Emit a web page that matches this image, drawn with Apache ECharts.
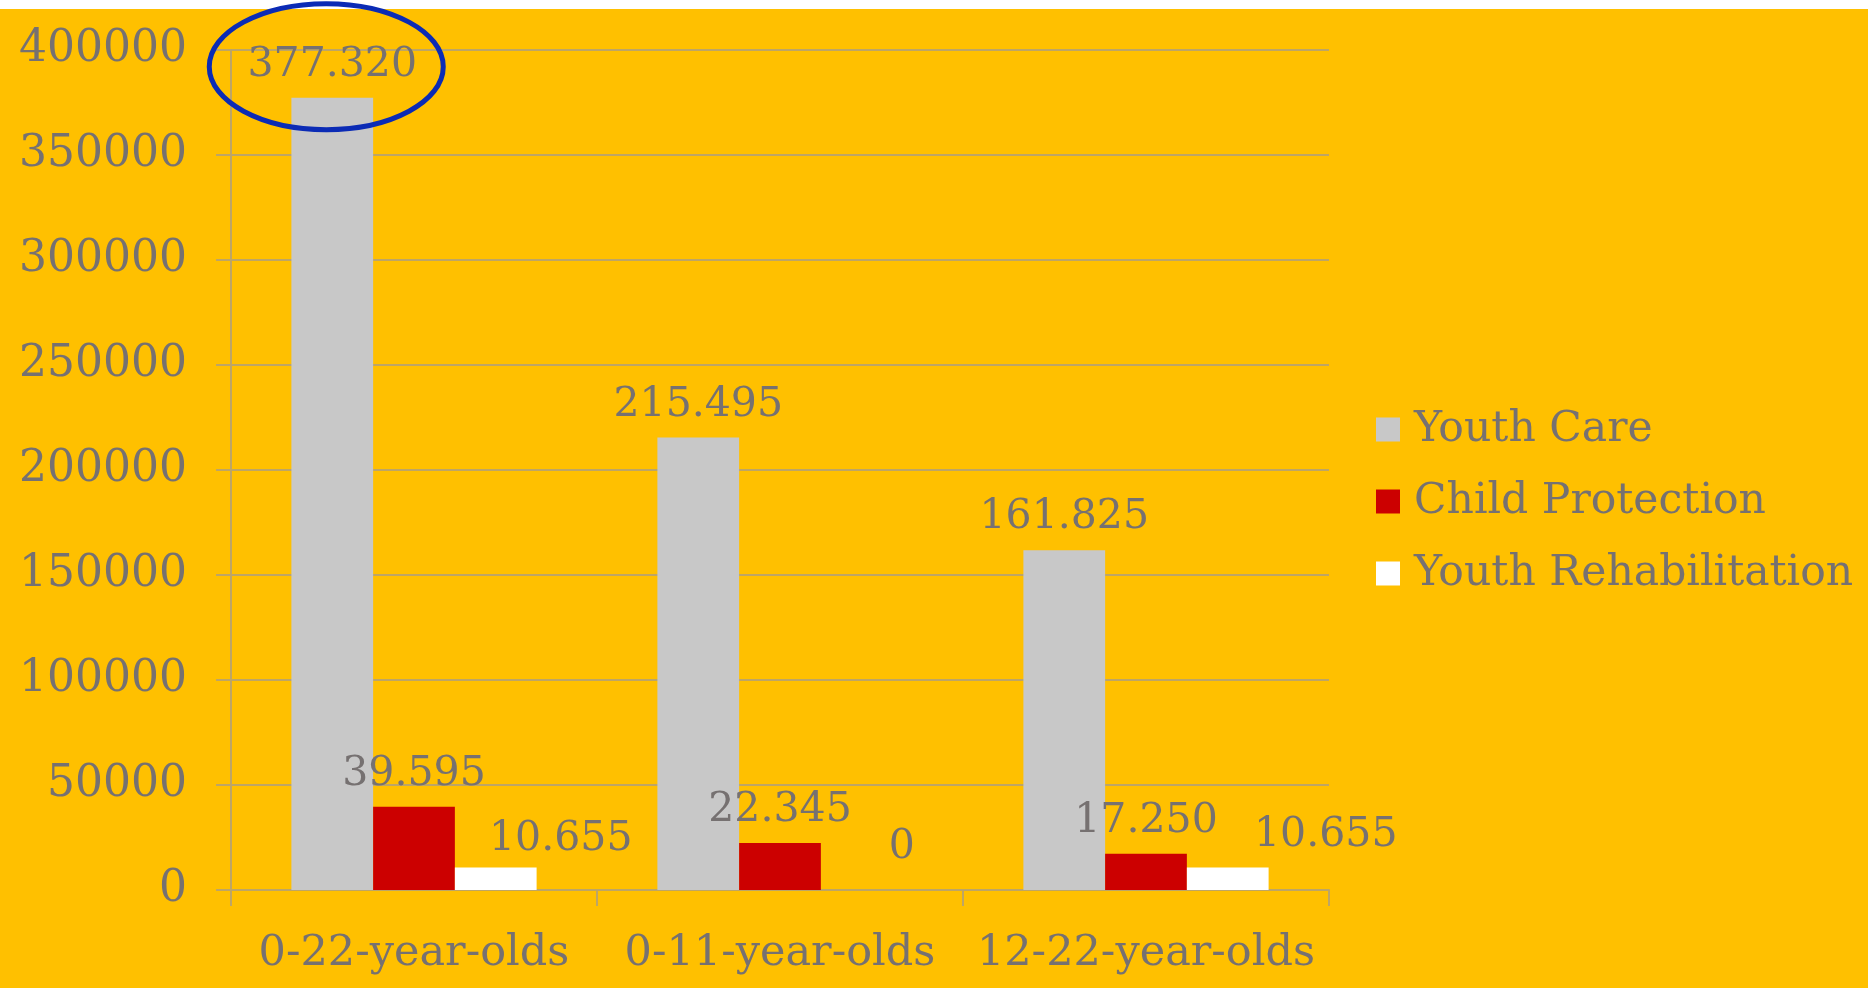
<!DOCTYPE html>
<html>
<head>
<meta charset="utf-8">
<title>Youth Care, Child Protection and Youth Rehabilitation by age group</title>
<script src="https://cdn.jsdelivr.net/npm/echarts@6/dist/echarts.min.js"></script>
<style>
  html, body { margin: 0; padding: 0; background: #ffffff; }
  #chart { width: 1868px; height: 988px; }
</style>
</head>
<body>
<div id="chart"></div>
<script>
// Age groups on the category axis
const categories = ['0-22-year-olds', '0-11-year-olds', '12-22-year-olds'];

// Number of young people per type of care
const youthCare = [377320, 215495, 161825];
const childProtection = [39595, 22345, 17250];
const youthRehabilitation = [10655, 0, 10655];

// Value axis ticks
const yMin = 0;
const yMax = 400000;
const yStep = 50000;

const TEXT = '#767171';
const LINE = '#BDA566';
const FONT = 'DejaVu Serif';

// Dutch style thousands separator: 377320 -> "377.320"
function dotThousands(v) {
  return String(v).replace(/\B(?=(\d{3})+(?!\d))/g, '.');
}

// The rehabilitation labels sit a little to the right of their bars
const rehabLabelShift = [[65, 4], [40, -10], [98, 0]];

const labelStyle = {
  show: true,
  position: 'top',
  distance: 12,
  fontFamily: FONT,
  fontSize: 41,
  color: TEXT,
  formatter: p => dotThousands(p.value)
};

const chart = echarts.init(document.getElementById('chart'));

const ribbon = {
  type: 'rect',
  left: 0,
  top: 0,
  shape: { width: 1868, height: 9 },
  style: { fill: '#FFFFFF' },
  z: 100
};

const option = {
  backgroundColor: '#FFC000',
  animation: false,
  grid: { left: 231, right: 539, top: 50, bottom: 98 },
  legend: {
    orient: 'vertical',
    left: 1376,
    top: 408,
    padding: 0,
    itemWidth: 24,
    itemHeight: 24,
    itemGap: 29,
    icon: 'rect',
    textStyle: { fontFamily: FONT, fontSize: 42.5, color: TEXT, padding: [0, 0, 0, 9] },
    data: ['Youth Care', 'Child Protection', 'Youth Rehabilitation']
  },
  xAxis: {
    type: 'category',
    data: categories,
    axisLine: { show: true, lineStyle: { color: LINE, width: 2 } },
    axisTick: { show: true, length: 16, lineStyle: { color: LINE, width: 2 } },
    axisLabel: { interval: 0, fontFamily: FONT, fontSize: 43, color: TEXT, margin: 42 }
  },
  yAxis: {
    type: 'value',
    min: yMin,
    max: yMax,
    interval: yStep,
    axisLine: { show: true, lineStyle: { color: LINE, width: 2 } },
    axisTick: { show: true, length: 15, lineStyle: { color: LINE, width: 2 } },
    splitLine: { show: true, lineStyle: { color: LINE, width: 2 } },
    axisLabel: {
      fontFamily: FONT, fontSize: 44, color: TEXT, margin: 44,
      formatter: v => String(v)
    }
  },
  series: [
    {
      name: 'Youth Care',
      type: 'bar',
      data: youthCare,
      barGap: '0%',
      barCategoryGap: '33%',
      itemStyle: { color: '#C8C8C8' },
      label: labelStyle
    },
    {
      name: 'Child Protection',
      type: 'bar',
      data: childProtection,
      itemStyle: { color: '#CC0000' },
      label: labelStyle
    },
    {
      name: 'Youth Rehabilitation',
      type: 'bar',
      data: youthRehabilitation.map((v, i) => ({
        value: v,
        label: { offset: rehabLabelShift[i] }
      })),
      itemStyle: { color: '#FFFFFF' },
      label: labelStyle
    }
  ],
  graphic: [ribbon]
};

chart.setOption(option);

// Highlight ring around the largest Youth Care figure
(function () {
  const i = youthCare.indexOf(Math.max(...youthCare));
  const catCenter = chart.convertToPixel({ xAxisIndex: 0 }, i);
  const catWidth = chart.convertToPixel({ xAxisIndex: 0 }, 1) - chart.convertToPixel({ xAxisIndex: 0 }, 0);
  const barWidth = catWidth * (1 - 0.33) / 3;
  const barCenter = catCenter - barWidth;
  const barTop = chart.convertToPixel({ yAxisIndex: 0 }, youthCare[i]);
  chart.setOption({
    graphic: [
      ribbon,
      {
        type: 'ellipse',
        shape: { cx: barCenter - 6, cy: barTop - 31, rx: 117, ry: 63 },
        style: { fill: 'none', stroke: '#0B2BB5', lineWidth: 5 },
        z: 110
      }
    ]
  }, { replaceMerge: ['graphic'] });
})();
</script>
</body>
</html>
